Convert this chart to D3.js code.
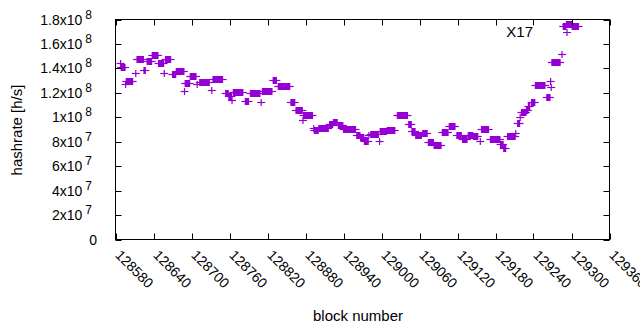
<!DOCTYPE html>
<html><head><meta charset="utf-8">
<script src="https://cdn.jsdelivr.net/npm/d3@7"></script>
<style>
body{margin:0;background:#fff}
svg{display:block}
text{font-family:"Liberation Sans",Arial,sans-serif;fill:#000}
</style>
</head><body>
<svg id="c" width="640" height="330"></svg>
<script>
// ---- data ----
const xTicks = [128580,128640,128700,128760,128820,128880,128940,129000,129060,129120,129180,129240,129300,129360];
const yTicks = [0,2e7,4e7,6e7,8e7,1e8,1.2e8,1.4e8,1.6e8,1.8e8];
const seriesName = "X17";
// Runs of consecutive blocks sharing (about) the same hashrate: first block, last block, hashrate [h/s]
const runFirst = [128588,128589,128596,128597,128612,128614,128625,128630,128638,128648,128657,128659,128670,128676,128689,128690,128698,128709,128713,128732,128734,128754,128759,128764,128766,128785,128793,128810,128812,128829,128837,128857,128865,128876,128877,128893,128894,128901,128918,128924,128932,128940,128961,128967,128973,128980,128983,128997,128998,129009,129025,129027,129043,129048,129054,129065,129074,129083,129096,129107,129119,129128,129137,129145,129156,129158,129172,129188,129193,129199,129212,129215,129219,129221,129229,129232,129237,129243,129261,129267,129268,129269,129285,129287,129292,129301];
const runLast  = [128588,128595,128596,128607,128612,128624,128627,128637,128647,128656,128657,128667,128675,128688,128689,128697,128707,128709,128728,128732,128749,128758,128763,128764,128781,128790,128808,128810,128827,128834,128855,128863,128875,128876,128891,128893,128900,128916,128923,128930,128939,128959,128966,128972,128979,128980,128995,128997,129008,129021,129025,129041,129047,129053,129063,129072,129082,129094,129105,129116,129126,129135,129144,129152,129156,129169,129187,129192,129196,129211,129212,129218,129219,129228,129231,129234,129242,129258,129266,129267,129268,129282,129285,129291,129300,129311];
const runRate  = [144.6e6,141.2e6,127.2e6,129.3e6,136.6e6,147.8e6,138.3e6,145.9e6,151.0e6,144.0e6,136.6e6,147.8e6,135.6e6,137.9e6,121.1e6,127.9e6,133.9e6,127.4e6,129.0e6,122.7e6,131.5e6,120.0e6,117.2e6,114.3e6,120.8e6,113.3e6,120.0e6,112.9e6,121.9e6,130.5e6,125.6e6,112.5e6,106.1e6,97.8e6,102.0e6,91.6e6,89.2e6,91.1e6,94.1e6,96.3e6,93.3e6,90.6e6,85.7e6,84.0e6,81.0e6,85.7e6,86.5e6,80.6e6,88.6e6,89.8e6,101.5e6,102.0e6,94.1e6,89.0e6,85.1e6,87.0e6,79.6e6,77.3e6,87.8e6,92.9e6,85.1e6,82.3e6,85.5e6,84.7e6,81.0e6,90.6e6,82.4e6,78.0e6,74.5e6,84.7e6,87.0e6,95.2e6,100.1e6,104.2e6,105.8e6,109.6e6,112.9e6,126.7e6,116.4e6,129.5e6,124.4e6,145.1e6,151.4e6,174.3e6,176.0e6,174.3e6];

// ---- layout ----
const color = "#9400D3";
const svg = d3.select("#c");
const L = 115.5, R = 609.5, T = 19.5, B = 239.5;
const x = d3.scaleLinear().domain([xTicks[0], xTicks[xTicks.length-1]]).range([L, R]);
const y = d3.scaleLinear().domain([yTicks[0], yTicks[yTicks.length-1]]).range([B, T]);
const TL = 6, HW = 4, HH = 3.5;

// data marks: a "+" per block; consecutive equal blocks merge into a bar with arms
const runs = runFirst.map((f,i)=>({f, l:runLast[i], v:runRate[i]}));
const gData = svg.append("g").attr("fill", color).attr("stroke", color);
runs.forEach(r=>{
  const x0 = x(r.f), x1 = x(r.l), yy = Math.round(y(r.v)) + 0.5;
  gData.append("path")
    .attr("d", `M${x0-HW},${yy}H${x1+HW}`)
    .attr("fill","none").attr("stroke-width",1.2);
  gData.append("rect")
    .attr("x", x0-0.6).attr("width", x1-x0+1.2)
    .attr("y", yy-HH).attr("height", 2*HH)
    .attr("stroke","none");
});

// border & ticks
const gAx = svg.append("g").attr("stroke","#000").attr("stroke-width",1).attr("fill","none");
gAx.append("rect").attr("x",L).attr("y",T).attr("width",R-L).attr("height",B-T);
xTicks.forEach(t=>{
  const xx = Math.round(x(t)) + 0.5;
  gAx.append("path").attr("d",`M${xx},${B}V${B-TL}M${xx},${T}V${T+TL}`);
});
yTicks.forEach(t=>{
  const yy = Math.round(y(t)) + 0.5;
  gAx.append("path").attr("d",`M${L},${yy}H${L+TL}M${R},${yy}H${R-TL}`);
});

// y tick labels (gnuplot style mantissa x10^exp)
yTicks.forEach(t=>{
  const yy = y(t);
  if (t === 0) {
    svg.append("text").attr("x",97).attr("y",yy+5).attr("text-anchor","end")
      .style("font-size","14px").text("0");
    return;
  }
  const e = Math.floor(Math.log10(t));
  const m = +(t/Math.pow(10,e)).toFixed(1);
  const tx = svg.append("text").attr("x",92).attr("y",yy+5).attr("text-anchor","end")
    .style("font-size","14px");
  tx.append("tspan").text(m + "x10");
  tx.append("tspan").attr("dx",3).attr("dy",-6).style("font-size","12px").text(e);
});

// x tick labels rotated
xTicks.forEach(t=>{
  svg.append("text")
    .attr("transform",`translate(${x(t)-1},256) rotate(45)`)
    .attr("text-anchor","start").style("font-size","14px").text(t);
});

// axis titles
svg.append("text").attr("transform","translate(22,130) rotate(-90)")
  .attr("text-anchor","middle").style("font-size","15px").text("hashrate [h/s]");
svg.append("text").attr("x",358).attr("y",321)
  .attr("text-anchor","middle").style("font-size","15px").text("block number");

// key
svg.append("text").attr("x",533).attr("y",37).attr("text-anchor","end")
  .style("font-size","15px").text(seriesName);
svg.append("path").attr("d",`M${567-HW},32.5H${567+HW}M567,${32.5-HH}V${32.5+HH}`)
  .attr("stroke",color).attr("stroke-width",1.2).attr("fill","none");
</script>
</body></html>
